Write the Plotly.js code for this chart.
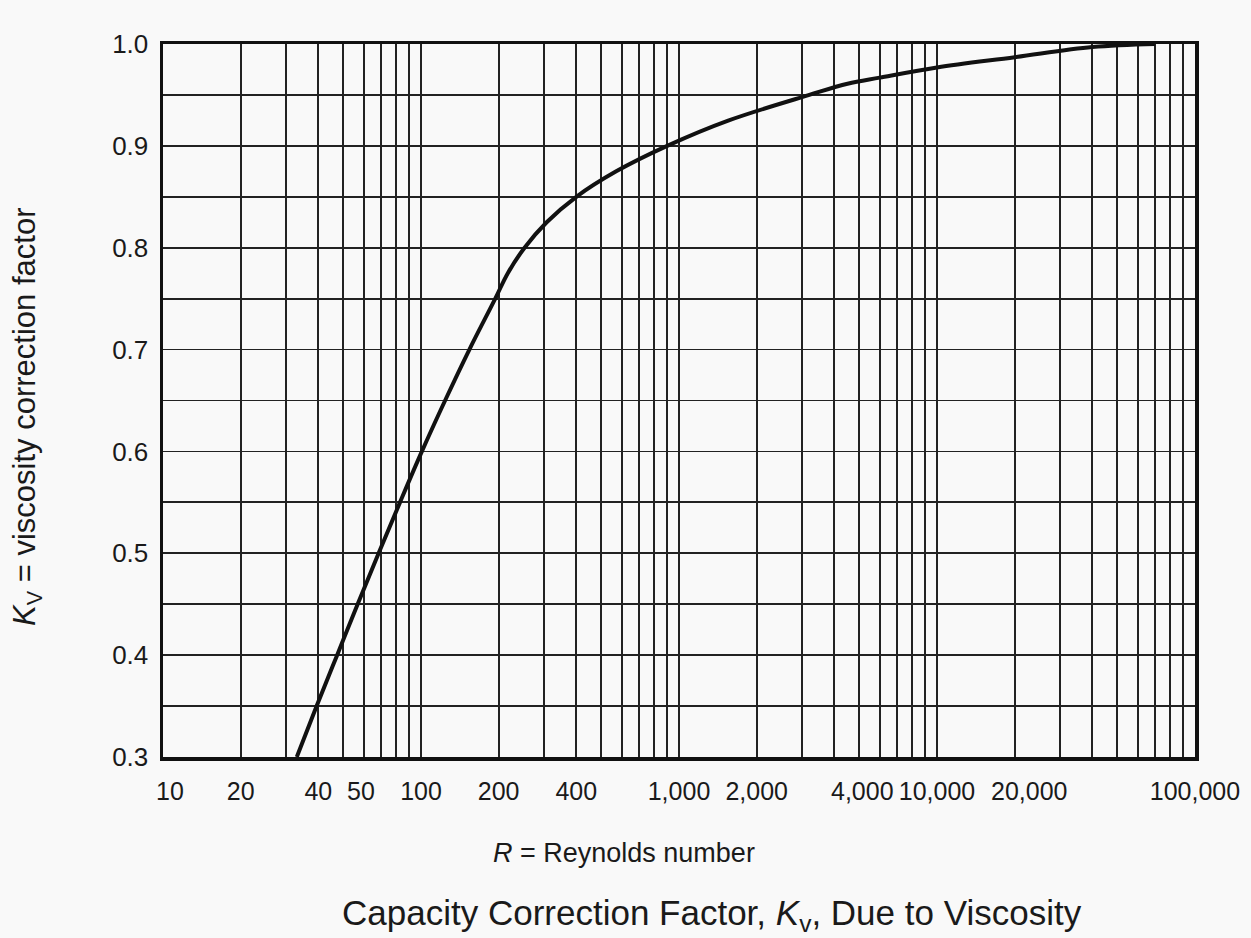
<!DOCTYPE html>
<html>
<head>
<meta charset="utf-8">
<script src="https://cdn.plot.ly/plotly-3.0.1.min.js"></script>
<style>
  html, body { margin: 0; padding: 0; background: #f9f9f9; }
  #chart { width: 1251px; height: 938px; }
</style>
</head>
<body>
<div id="chart"></div>
<script>
// Curve: Reynolds number vs viscosity correction factor
const reynolds = [33.0, 39.4, 47.3, 56.8, 68.5, 82.9, 100.8, 124, 154, 194, 217, 252, 307, 400, 571, 900, 1560, 3200, 4500, 6000, 10000, 20000, 40000, 70000];
const kv       = [0.300, 0.350, 0.400, 0.450, 0.500, 0.550, 0.600, 0.650, 0.700, 0.750, 0.775, 0.800, 0.825, 0.850, 0.875, 0.900, 0.925, 0.950, 0.961, 0.967, 0.977, 0.987, 0.997, 1.000];

// Axis grid and labels
const xGridVals = [10, 20, 30, 40, 50, 60, 70, 80, 90,
                   100, 200, 300, 400, 500, 600, 700, 800, 900,
                   1000, 2000, 3000, 4000, 5000, 6000, 7000, 8000, 9000,
                   10000, 20000, 30000, 40000, 50000, 60000, 70000, 80000, 90000, 100000];
// labels printed on their own tick
const xLabelVals = [10, 20, 40, 100, 200, 400, 1000, 2000, 10000, 100000];
const xLabelText = ['\u200710', '20', '40', '100', '200', '400', '1,000', '2,000', '10,000', '100,000'];
// labels printed slightly to the right of their tick in the reference
const xOffsetLabelVals = [50, 4000, 20000];
const xOffsetLabelText = ['50', '4,000', '20,000'];

const yGridVals = [0.35, 0.45, 0.55, 0.65, 0.75, 0.85, 0.95];
const yLabelVals = [0.3, 0.4, 0.5, 0.6, 0.7, 0.8, 0.9, 1.0];
const yLabelText = ['0.3', '0.4', '0.5', '0.6', '0.7', '0.8', '0.9', '1.0'];

const FONT = '"Liberation Sans", Arial, Helvetica, sans-serif';
const INK = '#1a1a1a';

const trace = {
  x: reynolds,
  y: kv,
  type: 'scatter',
  mode: 'lines',
  line: { color: '#111', width: 4, shape: 'spline', smoothing: 1 },
  hoverinfo: 'x+y',
  showlegend: false
};

const gridStyle = { showgrid: true, gridcolor: '#222', gridwidth: 1.8 };

const plotW = 1251 - 163 - 56;
const plotH = 757 - 44;
const labelShift = [18, 28, 14];

const offsetLabelAnnotations = xOffsetLabelVals.map((v, i) => ({
  text: xOffsetLabelText[i],
  xref: 'x', yref: 'paper',
  x: Math.log10(v),
  y: -(791 - 757) / plotH,
  xshift: labelShift[i],
  xanchor: 'center', yanchor: 'middle',
  showarrow: false,
  font: { family: FONT, size: 25, color: INK }
}));

const layout = {
  width: 1251,
  height: 938,
  paper_bgcolor: '#f9f9f9',
  plot_bgcolor: '#f9f9f9',
  margin: { l: 163, r: 56, t: 44, b: 181 },
  font: { family: FONT, color: INK, size: 25 },
  xaxis: Object.assign({
    type: 'log',
    range: [1, 5],
    tickmode: 'array',
    tickvals: xLabelVals,
    ticktext: xLabelText,
    tickangle: 0,
    ticks: '',
    ticklabelstandoff: 9,
    ticklabeloverflow: 'allow',
    minor: Object.assign({ tickmode: 'array', tickvals: xGridVals, ticks: '' }, gridStyle),
    showline: true,
    linecolor: '#111',
    linewidth: 3.5,
    mirror: true,
    zeroline: false,
    tickfont: { family: FONT, size: 25, color: INK }
  }, gridStyle),
  yaxis: Object.assign({
    range: [0.3, 1.0],
    tickmode: 'array',
    tickvals: yLabelVals,
    ticktext: yLabelText,
    ticks: '',
    ticklabelstandoff: 6,
    minor: Object.assign({ tickmode: 'array', tickvals: yGridVals, ticks: '' }, gridStyle),
    showline: true,
    linecolor: '#111',
    linewidth: 3.5,
    mirror: true,
    zeroline: false,
    tickfont: { family: FONT, size: 26, color: INK }
  }, gridStyle),
  annotations: offsetLabelAnnotations.concat([
    {
      text: '<i>K</i><sub>V</sub> = viscosity correction factor',
      xref: 'paper', yref: 'paper',
      x: -(163 - 27) / plotW,
      y: (757 - 417) / plotH,
      xanchor: 'center', yanchor: 'middle',
      textangle: -90,
      showarrow: false,
      font: { family: FONT, size: 31, color: INK }
    },
    {
      text: '<i>R</i> = Reynolds number',
      xref: 'paper', yref: 'paper',
      x: (624 - 163) / plotW,
      y: -(853 - 757) / plotH,
      xanchor: 'center', yanchor: 'middle',
      showarrow: false,
      font: { family: FONT, size: 27, color: INK }
    },
    {
      text: 'Capacity Correction Factor, <i>K</i><sub>v</sub>, Due to Viscosity',
      xref: 'paper', yref: 'paper',
      x: (712 - 163) / plotW,
      y: -(915 - 757) / plotH,
      xanchor: 'center', yanchor: 'middle',
      showarrow: false,
      font: { family: FONT, size: 35, color: INK }
    }
  ])
};

Plotly.newPlot('chart', [trace], layout, { displayModeBar: false, staticPlot: true });
</script>
</body>
</html>
